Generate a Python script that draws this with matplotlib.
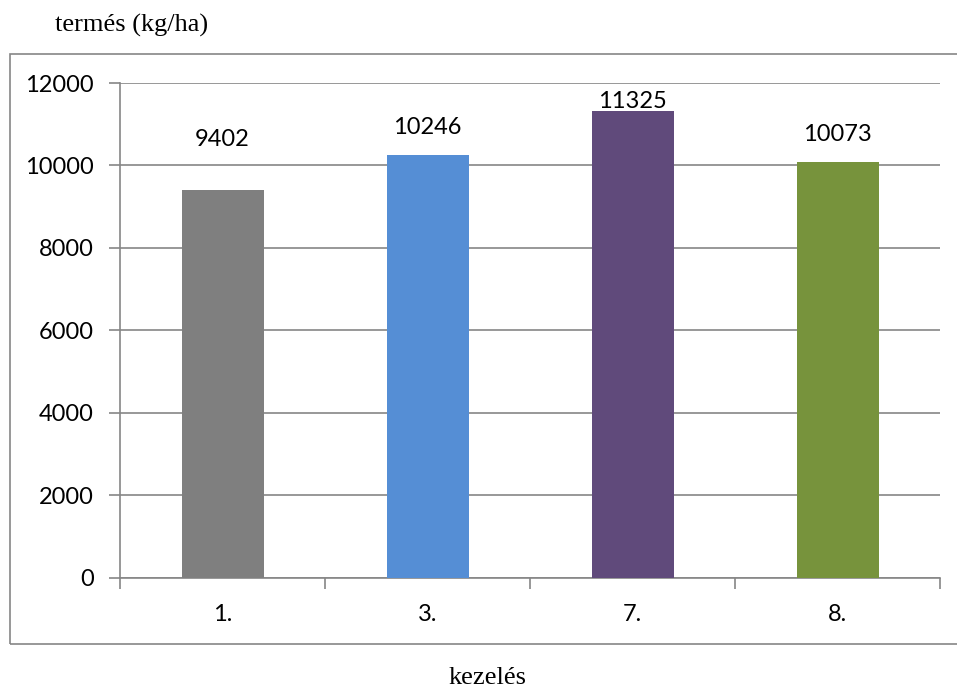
import matplotlib.pyplot as plt
from matplotlib import patches

# data
categories = ["1.", "3.", "7.", "8."]
yields = [9402, 10246, 11325, 10073]
bar_colors = ["#7f7f7f", "#558ed5", "#604a7b", "#77933c"]

# where the value labels sit (data units, placed by hand in the original)
label_y = [10617, 10908, 11563, 10762]

tick_font = "Lato"
serif_font = "Liberation Serif"
grid_color = "#868686"

fig = plt.figure(figsize=(9.57, 6.91), dpi=100)

# outer chart frame (right side runs off the image)
frame = patches.Rectangle((10 / 957, 1 - 644 / 691), 1.0, (644 - 53.5) / 691,
                          transform=fig.transFigure, fill=False,
                          edgecolor=grid_color, linewidth=1.2)
fig.patches.append(frame)

ax = fig.add_axes([120 / 957, 1 - 577.5 / 691, 820 / 957, (577.5 - 83) / 691])

x = list(range(len(categories)))
ax.bar(x, yields, width=0.4, color=bar_colors, zorder=3)

for xi, v, ly in zip(x, yields, label_y):
    ax.text(xi, ly, str(v), ha="center", va="center",
            fontsize=17, family=tick_font, zorder=4)

ax.set_xlim(-0.5, len(categories) - 0.5)
ax.set_ylim(0, 12000)
ax.set_yticks(range(0, 12001, 2000))
ax.set_yticklabels([str(v) for v in range(0, 12001, 2000)],
                   family=tick_font, fontsize=17)

ax.set_xticks(x)
ax.set_xticklabels(categories, family=tick_font, fontsize=17)
ax.set_xticks([i - 0.5 for i in range(len(categories) + 1)], minor=True)
ax.tick_params(axis="x", which="major", length=0, pad=19)
ax.tick_params(axis="x", which="minor", length=8, width=1.2, color=grid_color, direction="out")
ax.tick_params(axis="y", length=8, width=1.2, color=grid_color, pad=11)

ax.grid(axis="y", color=grid_color, linewidth=1.2, zorder=0)
for side in ["top", "right"]:
    ax.spines[side].set_visible(False)
for side in ["left", "bottom"]:
    ax.spines[side].set_color(grid_color)
    ax.spines[side].set_linewidth(1.2)

fig.text(55 / 957, 1 - 25 / 691, "termés (kg/ha)", family=serif_font,
         fontsize=19, ha="left", va="center")
fig.text(488 / 957, 1 - 678 / 691, "kezelés", family=serif_font,
         fontsize=19, ha="center", va="center")

fig.savefig("out.png", dpi=100)
